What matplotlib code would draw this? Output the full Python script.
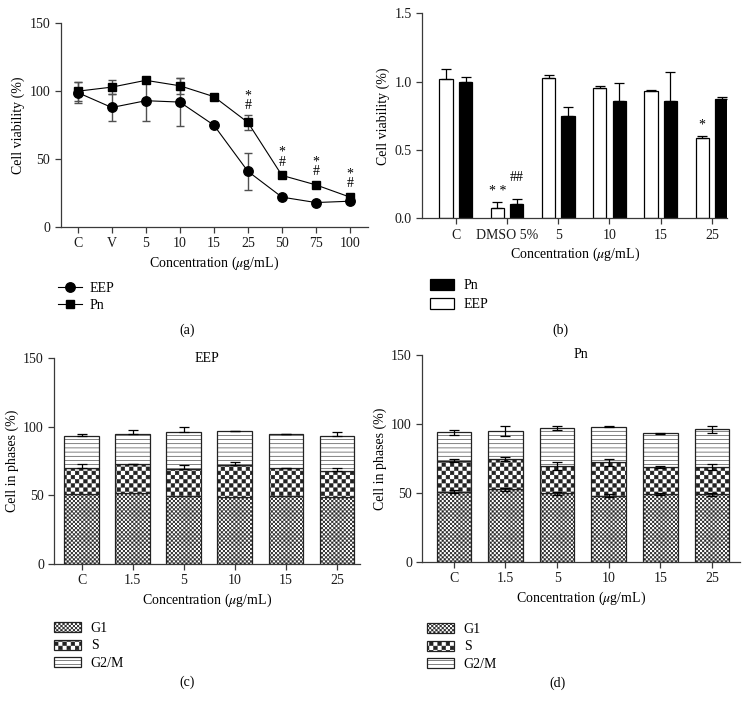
import numpy as np
import matplotlib
matplotlib.use("Agg")
import matplotlib.pyplot as plt
import matplotlib.hatch as mhatch
from matplotlib.path import Path
from matplotlib.patches import Patch

# ---------------- data ----------------
conc_a = ['C', 'V', '5', '10', '15', '25', '50', '75', '100']
eep_a = [99, 88, 93, 92, 75, 41, 22, 18, 19]
eep_a_err = [8, 10, 15, 17.5, 0, 13.5, 0, 0, 0]
pn_a = [100, 103, 108, 104, 96, 77, 38, 31, 22]
pn_a_err = [7, 5, 0, 6, 0, 5.5, 0, 0, 0]
sig_a = ['', '', '', '', '', '*\n#', '*\n#', '*\n#', '*\n#']

groups_b = ['C', 'DMSO 5%', '5', '10', '15', '25']
eep_b = [1.02, 0.075, 1.03, 0.955, 0.93, 0.585]
eep_b_err = [0.075, 0.042, 0.02, 0.012, 0.01, 0.02]
pn_b = [1.0, 0.105, 0.745, 0.856, 0.86, 0.87]
pn_b_err = [0.033, 0.039, 0.068, 0.135, 0.21, 0.016]
sig_b_eep = ['', '* *', '', '', '', '*']
sig_b_pn = ['', '##', '', '', '', '']

conc_c = ['C', '1.5', '5', '10', '15', '25']
eep_g1 = [50.9, 51.4, 49.4, 48.5, 49.7, 48.5]
eep_s = [18.7, 21.2, 19.5, 23.3, 19.9, 19.4]
eep_g2m = [23.7, 22.1, 27.5, 24.9, 25.1, 25.4]
eep_s_err = [3.2, 0.5, 3.2, 2.2, 0.5, 1.7]
eep_g2m_err = [1.7, 3.2, 3.7, 0.3, 0.3, 2.7]

pn_g1 = [51.0, 52.7, 49.8, 48.0, 49.0, 49.0]
pn_s = [22.4, 21.9, 19.8, 24.2, 19.6, 20.1]
pn_g2m = [20.6, 20.6, 27.5, 25.8, 24.6, 27.0]
pn_g1_err = [1.0, 1.0, 1.0, 1.0, 0.8, 1.0]
pn_s_err = [1.2, 1.5, 2.7, 2.7, 0.7, 2.2]
pn_g2m_err = [2.0, 3.6, 1.7, 0.5, 0.5, 2.5]

phase_labels = ['G1', 'S', 'G2/M']

# ---------------- custom checkerboard hatches ----------------
HATCH_LW = 0.4


class _Checker(mhatch.HatchPatternBase):
    char = 'o'

    def __init__(self, hatch, density):
        n = hatch.count(self.char) * density
        if n % 2:
            n += 1
        self.n = n
        self.num_vertices = (n * n // 2) * 5

    def set_vertices_and_codes(self, vertices, codes):
        n = self.n
        s = 1.0 / n
        ins = 0.5 * HATCH_LW / 72.0
        verts = []
        for i in range(n):
            for j in range(n):
                if (i + j) % 2 == 0:
                    x0, y0 = i * s + ins, j * s + ins
                    x1, y1 = (i + 1) * s - ins, (j + 1) * s - ins
                    verts.extend([[x0, y0], [x1, y0], [x1, y1], [x0, y1], [x0, y0]])
        vertices[:] = np.array(verts)
        codes[:] = np.tile([Path.MOVETO, Path.LINETO, Path.LINETO, Path.LINETO,
                            Path.CLOSEPOLY], n * n // 2)


class _FineChecker(_Checker):
    char = 'o'


class _CoarseChecker(_Checker):
    char = 'O'


mhatch._hatch_types = [t for t in mhatch._hatch_types
                       if t not in (mhatch.SmallCircles, mhatch.LargeCircles)] + \
                      [_FineChecker, _CoarseChecker]

HATCH_G1 = 'oooooooo'
HATCH_S = 'OOOO'
HATCH_G2M = '----'

# ---------------- style ----------------
plt.rcParams['font.family'] = ['Liberation Serif', 'DejaVu Serif']
plt.rcParams['mathtext.fontset'] = 'stix'
plt.rcParams['font.size'] = 10
plt.rcParams['hatch.linewidth'] = HATCH_LW
SPINE = '#3a3a3a'
FS = 10

fig = plt.figure(figsize=(7.47, 7.02), dpi=100)


def ax_px(l, t, r, b):
    return fig.add_axes([l / 747, 1 - b / 702, (r - l) / 747, (b - t) / 702])


def style(ax):
    for s in ['top', 'right']:
        ax.spines[s].set_visible(False)
    for s in ['left', 'bottom']:
        ax.spines[s].set_color(SPINE)
        ax.spines[s].set_linewidth(0.9)
    ax.tick_params(direction='out', length=4.5, width=0.9, color=SPINE,
                   labelsize=FS, labelcolor='#1a1a1a', pad=3)


xlabel = 'Concentration ($\\mu$g/mL)'

# ---------------- panel a ----------------
ax = ax_px(60.7, 23.3, 367.7, 227)
style(ax)
xa = np.arange(len(conc_a))
ax.errorbar(xa, eep_a, yerr=eep_a_err, fmt='none', ecolor='#505050',
            elinewidth=1.0, capsize=3, capthick=1.0, zorder=1)
ax.errorbar(xa, pn_a, yerr=pn_a_err, fmt='none', ecolor='#505050',
            elinewidth=1.0, capsize=3, capthick=1.0, zorder=1)
ax.plot(xa, eep_a, '-o', color='black', lw=0.8, ms=6.8, label='EEP', zorder=3)
ax.plot(xa, pn_a, '-s', color='black', lw=0.8, ms=6.4, label='Pn', zorder=3)
for xi, yv, e, lab in zip(xa, pn_a, pn_a_err, sig_a):
    if lab:
        ax.text(xi, yv + max(e, 3) + 2, lab, ha='center', va='bottom',
                fontsize=FS, linespacing=0.7)
ax.set_xlim(-0.5, 8.52)
ax.set_ylim(0, 150)
ax.set_yticks([0, 50, 100, 150])
ax.set_xticks(xa)
ax.set_xticklabels(conc_a)
ax.set_ylabel('Cell viability (%)', fontsize=FS, labelpad=3)
ax.set_xlabel(xlabel, fontsize=FS, labelpad=3)
ax.legend(loc='upper left', bbox_to_anchor=(58 / 747, 1 - 282 / 702),
          bbox_transform=fig.transFigure, frameon=False, fontsize=FS,
          handlelength=1.7, handletextpad=0.6, labelspacing=0.3, borderpad=0,
          borderaxespad=0)

# ---------------- panel b ----------------
ax = ax_px(422, 13.3, 727.3, 218.3)
style(ax)
xb = np.arange(len(groups_b))
w = 0.26
off = 0.19
ax.bar(xb - off, eep_b, w, color='white', edgecolor='black', lw=0.9,
       yerr=[np.zeros(len(eep_b)), eep_b_err],
       error_kw=dict(ecolor='black', elinewidth=0.9, capsize=3.5, capthick=0.9),
       label='EEP', zorder=2)
ax.bar(xb + off, pn_b, w, color='black', edgecolor='black', lw=0.9,
       yerr=[np.zeros(len(pn_b)), pn_b_err],
       error_kw=dict(ecolor='black', elinewidth=0.9, capsize=3.5, capthick=0.9),
       label='Pn', zorder=2)
for xi, yv, e, lab in zip(xb, eep_b, eep_b_err, sig_b_eep):
    if lab:
        ax.text(xi - off, yv + e + 0.03, lab, ha='center', va='bottom', fontsize=FS)
for xi, yv, e, lab in zip(xb, pn_b, pn_b_err, sig_b_pn):
    if lab:
        ax.text(xi + off, yv + e + 0.11, lab, ha='center', va='bottom', fontsize=FS)
ax.set_xlim(-0.66, 5.3)
ax.set_ylim(0, 1.5)
ax.set_yticks([0, 0.5, 1.0, 1.5])
ax.set_yticklabels(['0.0', '0.5', '1.0', '1.5'])
ax.set_xticks(xb)
ax.set_xticklabels(groups_b)
ax.set_ylabel('Cell viability (%)', fontsize=FS, labelpad=3)
ax.set_xlabel(xlabel, fontsize=FS, labelpad=3)
hb = [Patch(facecolor='black', edgecolor='black', lw=0.9, label='Pn'),
      Patch(facecolor='white', edgecolor='black', lw=0.9, label='EEP')]
ax.legend(handles=hb, loc='upper left', bbox_to_anchor=(430 / 747, 1 - 279 / 702),
          bbox_transform=fig.transFigure, frameon=False, fontsize=FS,
          handlelength=1.7, handleheight=0.85, handletextpad=0.7,
          labelspacing=0.4, borderpad=0, borderaxespad=0)


# ---------------- panels c, d ----------------
def stacked(ax, g1, s, g2m, g1e, se, g2e, both, title, xlim, w):
    style(ax)
    x = np.arange(len(conc_c))
    g1 = np.array(g1)
    s = np.array(s)
    g2m = np.array(g2m)
    ek = dict(ecolor='black', elinewidth=0.9, capsize=3.5, capthick=0.9)
    ax.bar(x, g1, w, color='white', edgecolor='#222222', lw=0.9,
           hatch=HATCH_G1, label=phase_labels[0], zorder=2)
    ax.bar(x, s, w, bottom=g1, color='white', edgecolor='#222222', lw=0.9,
           hatch=HATCH_S, label=phase_labels[1], zorder=2)
    ax.bar(x, g2m, w, bottom=g1 + s, color='white', edgecolor='#222222', lw=0.9,
           hatch=HATCH_G2M, label=phase_labels[2], zorder=2)
    errs = [(g1, g1e), (g1 + s, se), (g1 + s + g2m, g2e)]
    for top, e in errs:
        if e is None:
            continue
        e = np.array(e)
        yerr = e if both else [np.zeros(len(e)), e]
        ax.errorbar(x, top, yerr=yerr, fmt='none', zorder=3, **ek)
    ax.set_xlim(*xlim)
    ax.set_ylim(0, 150)
    ax.set_yticks([0, 50, 100, 150])
    ax.set_xticks(x)
    ax.set_xticklabels(conc_c)
    ax.set_ylabel('Cell in phases (%)', fontsize=FS, labelpad=3)
    ax.set_xlabel(xlabel, fontsize=FS, labelpad=3)
    ax.text(0.5, 1.0, title, transform=ax.transAxes, ha='center', va='center',
            fontsize=FS)


ax_c = ax_px(54.3, 358.3, 360, 563.7)
stacked(ax_c, eep_g1, eep_s, eep_g2m, None, eep_s_err, eep_g2m_err, False,
        'EEP', (-0.535, 5.45), 0.68)
ax_c.legend(loc='upper left', bbox_to_anchor=(54 / 747, 1 - 622 / 702),
            bbox_transform=fig.transFigure, frameon=False, fontsize=FS,
            handlelength=1.95, handleheight=0.75, handletextpad=0.7,
            labelspacing=0.32, borderpad=0, borderaxespad=0)

ax_d = ax_px(422.3, 355, 740, 562)
stacked(ax_d, pn_g1, pn_s, pn_g2m, pn_g1_err, pn_s_err, pn_g2m_err, True,
        'Pn', (-0.61, 5.54), 0.67)
ax_d.legend(loc='upper left', bbox_to_anchor=(427 / 747, 1 - 623 / 702),
            bbox_transform=fig.transFigure, frameon=False, fontsize=FS,
            handlelength=1.95, handleheight=0.75, handletextpad=0.7,
            labelspacing=0.32, borderpad=0, borderaxespad=0)

# ---------------- captions ----------------
for (xp, yp, t) in [(187, 330, '(a)'), (560, 330, '(b)'),
                    (187, 682, '(c)'), (558, 683, '(d)')]:
    fig.text(xp / 747, 1 - yp / 702, t, ha='center', va='center', fontsize=FS)

fig.savefig('out.png', dpi=100)
